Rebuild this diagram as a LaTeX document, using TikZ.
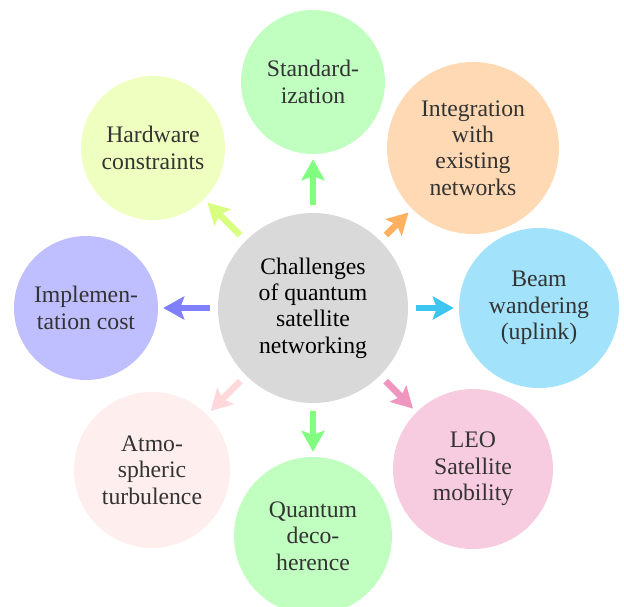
\documentclass[tikz,border=0pt]{standalone}
\usepackage{fontspec}
\setmainfont{Liberation Serif}
\usetikzlibrary{arrows.meta}
\definecolor{cgray}{RGB}{217,217,217}
\definecolor{cgreen}{RGB}{192,255,192}
\definecolor{agreen}{RGB}{128,255,128}
\definecolor{corange}{RGB}{255,217,179}
\definecolor{aorange}{RGB}{255,176,96}
\definecolor{ccyan}{RGB}{162,226,250}
\definecolor{acyan}{RGB}{62,197,240}
\definecolor{cpink}{RGB}{248,204,224}
\definecolor{apink}{RGB}{240,150,190}
\definecolor{crose}{RGB}{255,238,238}
\definecolor{arose}{RGB}{255,216,220}
\definecolor{cblue}{RGB}{191,191,255}
\definecolor{ablue}{RGB}{128,128,255}
\definecolor{clime}{RGB}{238,255,192}
\definecolor{alime}{RGB}{216,255,128}
\tikzset{
  bubble/.style={circle, inner sep=0pt, align=center, text=black!80,
    font=\fontsize{23.7bp}{26.4bp}\selectfont},
  hub/.style={bubble, text=black, fill=cgray, minimum size=190bp},
  link/.style={line width=6.5bp, shorten <=8bp, shorten >=5bp,
    -{Stealth[width=23bp,length=21bp,inset=4bp]}}
}
\begin{document}
\begin{tikzpicture}[x=1bp,y=-1bp]
\useasboundingbox (0,0) rectangle (624,607);
\node[hub] (c) at (313,308) {Challenges\\of quantum\\satellite\\networking};
\node[bubble, fill=cgreen, minimum size=144bp] (n) at (313,82) {Standard-\\ization};
\node[bubble, fill=corange, minimum size=172bp] (ne) at (473,148) {Integration\\with\\existing\\networks};
\node[bubble, fill=ccyan, minimum size=160bp] (e) at (539,308) {Beam\\wandering\\(uplink)};
\node[bubble, fill=cpink, minimum size=160bp] (se) at (473,469) {LEO\\Satellite\\mobility};
\node[bubble, fill=cgreen, minimum size=158bp] (s) at (313,536) {Quantum\\deco-\\herence};
\node[bubble, fill=crose, minimum size=156bp] (sw) at (152,470) {Atmo-\\spheric\\turbulence};
\node[bubble, fill=cblue, minimum size=144bp] (w) at (86,308) {Implemen-\\tation cost};
\node[bubble, fill=clime, minimum size=144bp] (nw) at (153,148) {Hardware\\constraints};
\draw[link, agreen] (c) -- (n);
\draw[link, aorange] (c) -- (ne);
\draw[link, acyan] (c) -- (e);
\draw[link, apink] (c) -- (se);
\draw[link, agreen] (c) -- (s);
\draw[link, arose] (c) -- (sw);
\draw[link, ablue] (c) -- (w);
\draw[link, alime] (c) -- (nw);
\end{tikzpicture}
\end{document}
